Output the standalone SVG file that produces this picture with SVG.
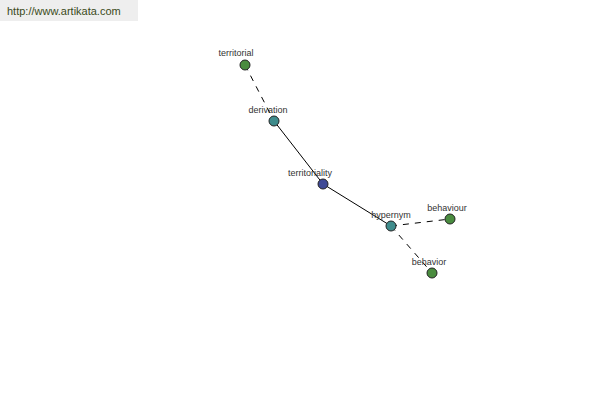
<svg xmlns="http://www.w3.org/2000/svg" width="600" height="400" viewBox="0 0 600 400">
<style>
.lbl{font-family:"Liberation Sans",Arial,sans-serif;font-size:9px;fill:#333;text-anchor:middle}
.n{stroke:#222;stroke-width:1}
.g{fill:#4a8c3f}.t{fill:#3f8c8c}.b{fill:#3f4a96}
.e{stroke:#000;stroke-width:1;fill:none}
.d{stroke-dasharray:6,6}
</style>
<rect width="600" height="400" fill="#fff"/>
<rect x="0" y="0" width="138" height="21" fill="#eeeeee"/>
<text x="7" y="15" style="font-family:'Liberation Sans',Arial,sans-serif;font-size:11px;fill:#3a4a1a">http://www.artikata.com</text>
<g id="connectors">
<line class="e d" x1="245" y1="65" x2="274" y2="121"/>
<line class="e" x1="274" y1="121" x2="323" y2="184"/>
<line class="e" x1="323" y1="184" x2="391" y2="226"/>
<line class="e d" x1="391" y1="226" x2="450" y2="219"/>
<line class="e d" x1="391" y1="226" x2="432" y2="273"/>
</g>
<g id="territorial"><circle class="n g" cx="245" cy="65" r="5"/><text class="lbl" x="236" y="56">territorial</text></g>
<g id="derivation"><circle class="n t" cx="274" cy="121" r="5"/><text class="lbl" x="268" y="113">derivation</text></g>
<g id="territoriality"><circle class="n b" cx="323" cy="184" r="5"/><text class="lbl" x="310" y="176">territoriality</text></g>
<g id="hypernym"><circle class="n t" cx="391" cy="226" r="5"/><text class="lbl" x="391" y="218">hypernym</text></g>
<g id="behaviour"><circle class="n g" cx="450" cy="219" r="5"/><text class="lbl" x="447" y="211">behaviour</text></g>
<g id="behavior"><circle class="n g" cx="432" cy="273" r="5"/><text class="lbl" x="429" y="265">behavior</text></g>
</svg>
